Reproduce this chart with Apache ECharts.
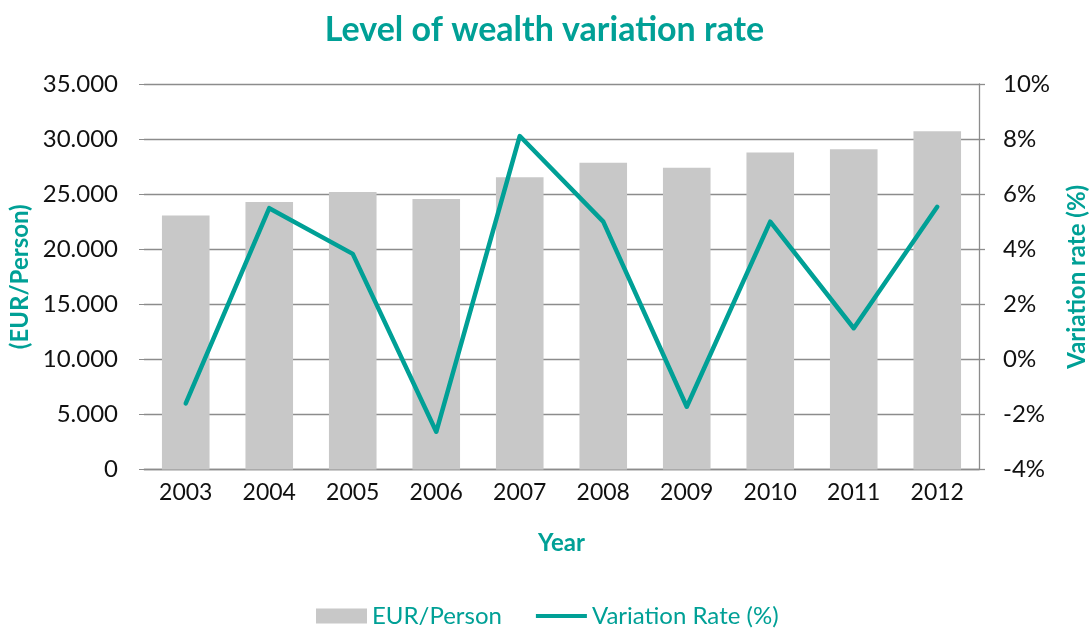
<!DOCTYPE html>
<html>
<head>
<meta charset="utf-8">
<title>Level of wealth variation rate</title>
<script src="https://cdn.jsdelivr.net/npm/echarts@6/dist/echarts.min.js"></script>
<style>
	html, body { margin: 0; padding: 0; background: #fff; }
	#wealth_chart { width: 1089px; height: 628px; }
</style>
</head>
<body>
<div id="wealth_chart"></div>
<script>
var years = ['2003', '2004', '2005', '2006', '2007', '2008', '2009', '2010', '2011', '2012'];
var eurPerPerson = [23050, 24290, 25200, 24560, 26530, 27860, 27400, 28770, 29070, 30710];
var variationRate = [-1.60, 5.49, 3.83, -2.63, 8.11, 5.00, -1.72, 5.00, 1.13, 5.54];

var teal = '#00a096';
var grey = '#8c8c8c';
var font = 'Lato';

// 千位分隔符用点
function dotThousands(v){
	return String(v).replace(/\B(?=(\d{3})+(?!\d))/g, '.');
}

function drawChart(){
	var myChart = echarts.init(document.getElementById('wealth_chart'));
	var option = {
		animation: false,
		textStyle: { fontFamily: font },
		title: {
			text: 'Level of wealth variation rate',
			left: 'center',
			top: 8,
			textStyle: { color: teal, fontSize: 34, fontWeight: 'bold', fontFamily: font }
		},
		legend: {
			left: 311,
			top: 599,
			itemWidth: 51,
			itemHeight: 15,
			itemGap: 34,
			textStyle: { color: teal, fontSize: 24, fontFamily: font },
			data: [
				{ name: 'EUR/Person', icon: 'rect' },
				// 图例里只画一条线
				{ name: 'Variation Rate (%)', icon: 'path://M0,0 M0,15 M0,5.5 L51,5.5 L51,9.5 L0,9.5 Z' }
			]
		},
		grid: { left: 144, right: 110, top: 84, bottom: 158.5, outerBoundsMode: 'none' },
		xAxis: {
			type: 'category',
			data: years,
			name: 'Year',
			nameLocation: 'middle',
			nameGap: 62,
			nameTextStyle: { color: teal, fontSize: 24, fontWeight: 'bold' },
			axisLine: { lineStyle: { color: grey, width: 1.3 } },
			axisTick: { show: false },
			axisLabel: { color: '#111', fontSize: 23, margin: 12 }
		},
		yAxis: [
			{
				type: 'value',
				min: 0,
				max: 35000,
				interval: 5000,
				name: '(EUR/Person)',
				nameLocation: 'middle',
				nameRotate: 90,
				nameGap: 108,
				nameTextStyle: { color: teal, fontSize: 24, fontWeight: 'bold' },
				axisLine: { show: false },
				axisTick: { show: true, length: 5, lineStyle: { color: grey } },
				axisLabel: { color: '#111', fontSize: 24, margin: 26, formatter: dotThousands },
				splitLine: { lineStyle: { color: grey, width: 1.3 } }
			},
			{
				type: 'value',
				min: -4,
				max: 10,
				interval: 2,
				position: 'right',
				name: 'Variation rate (%)',
				nameLocation: 'middle',
				nameRotate: 90,
				nameGap: 86,
				nameTextStyle: { color: teal, fontSize: 24, fontWeight: 'bold' },
				axisLine: { show: true, lineStyle: { color: grey, width: 1.3 } },
				axisTick: { show: true, length: 6, lineStyle: { color: grey, width: 1.3 } },
				axisLabel: { color: '#111', fontSize: 24, margin: 24, formatter: '{value}%' },
				splitLine: { show: false }
			}
		],
		series: [
			{
				name: 'EUR/Person',
				type: 'bar',
				data: eurPerPerson,
				barCategoryGap: '43%',
				itemStyle: { color: '#c8c8c8' }
			},
			{
				name: 'Variation Rate (%)',
				type: 'line',
				yAxisIndex: 1,
				data: variationRate,
				symbol: 'none',
				lineStyle: { color: teal, width: 4.5, cap: 'round', join: 'round' },
				itemStyle: { color: teal }
			}
		]
	};
	myChart.setOption(option);
}

drawChart();
</script>
</body>
</html>
